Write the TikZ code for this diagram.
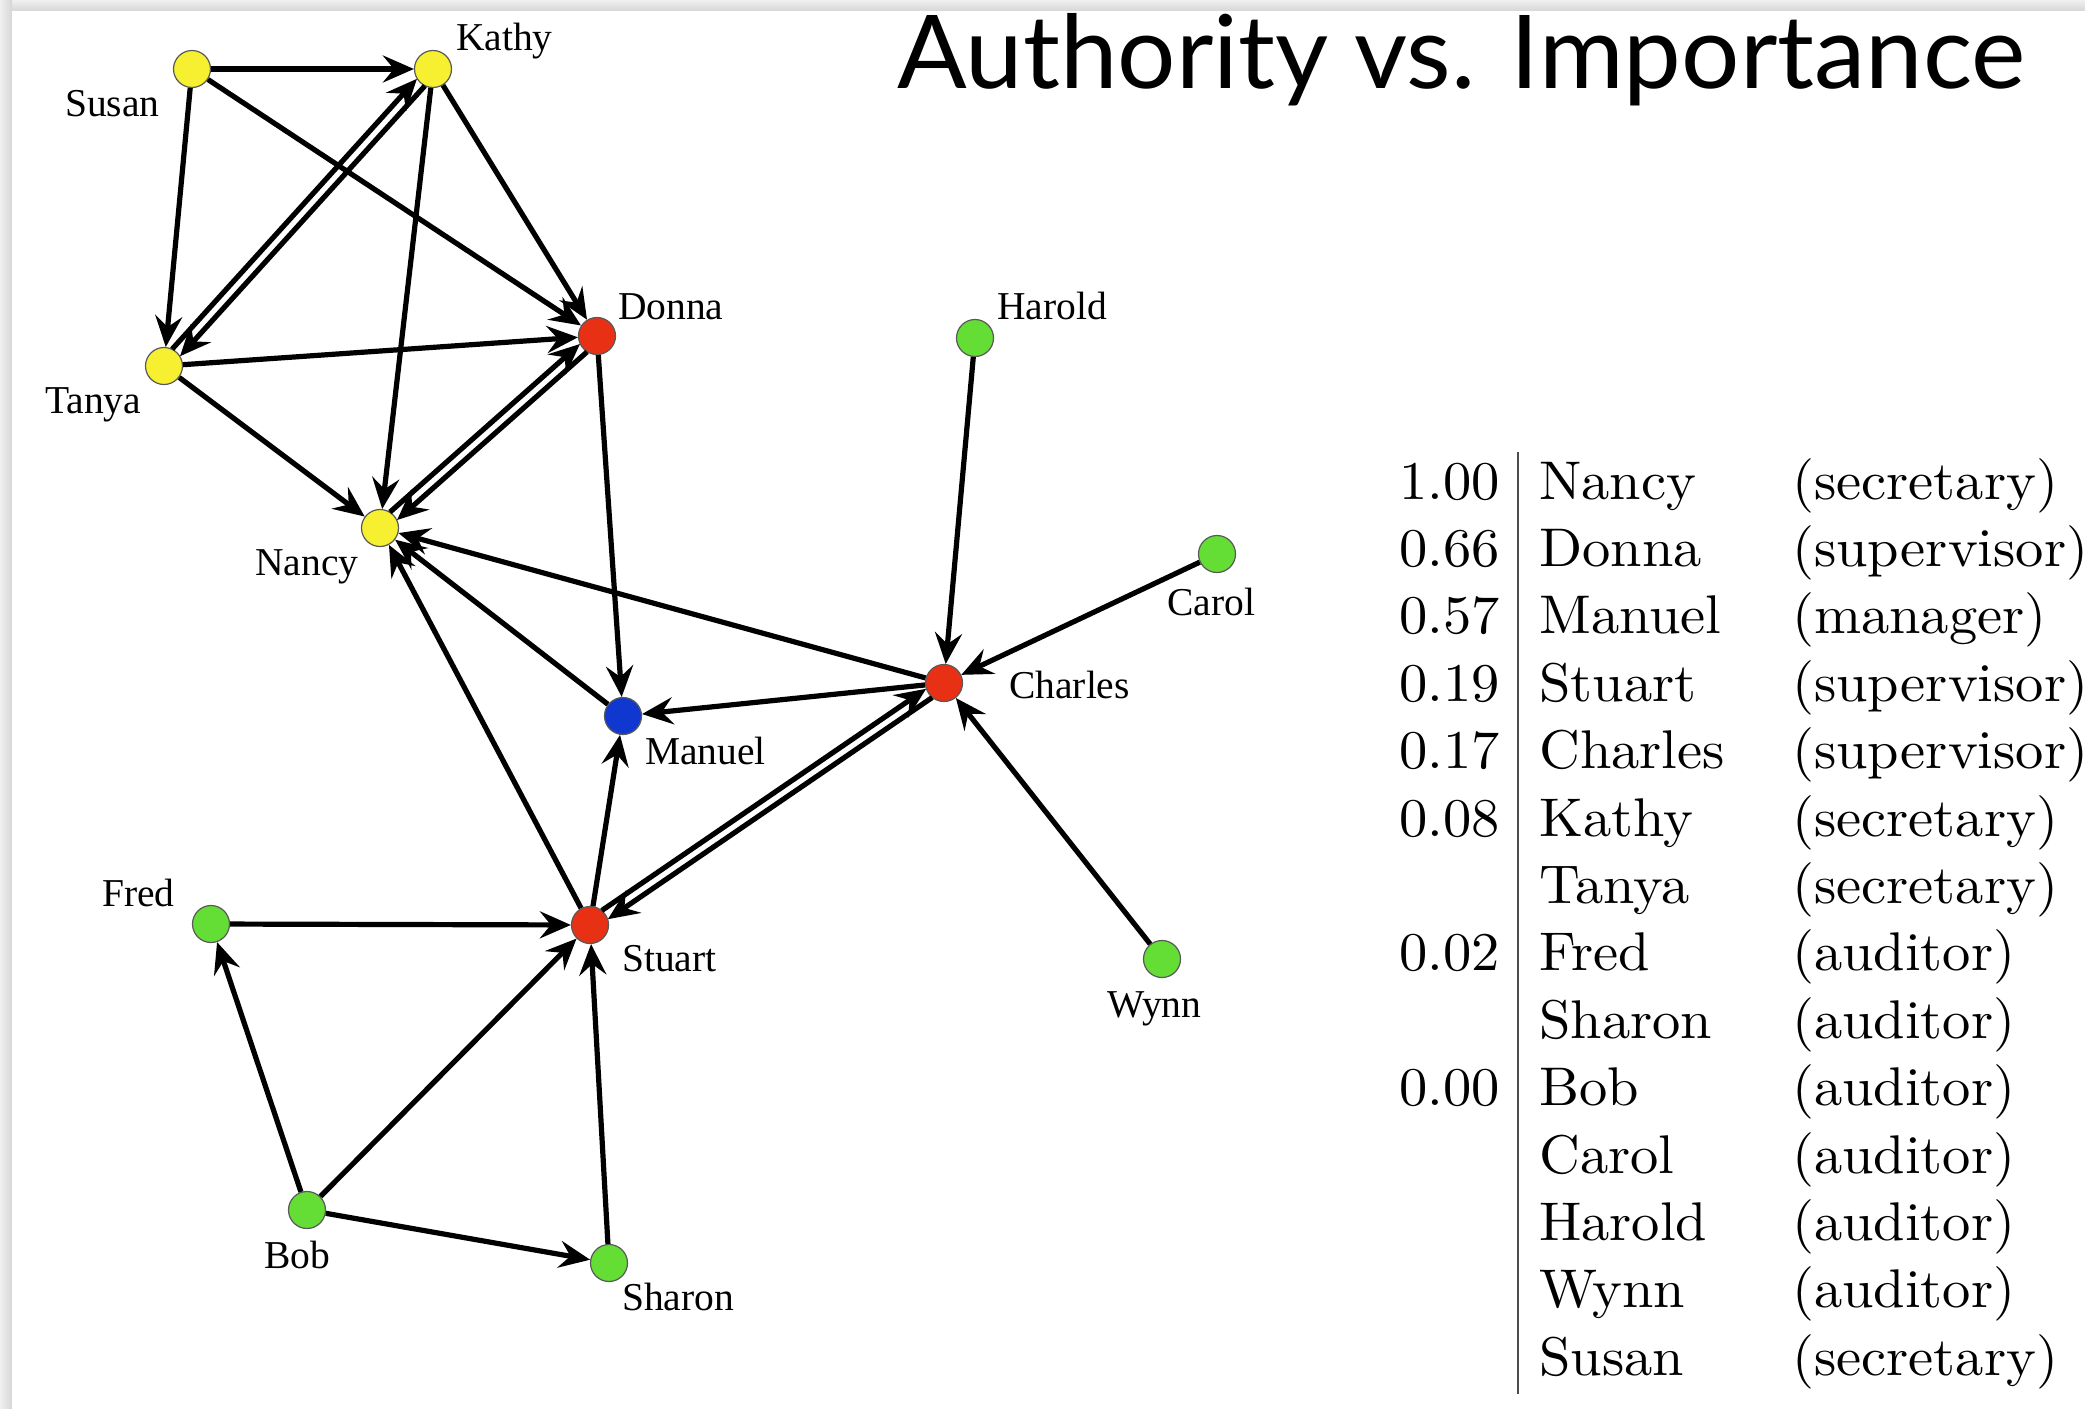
\documentclass[tikz,border=0pt]{standalone}
\usepackage{fontspec}
\usepackage{graphicx}
\usetikzlibrary{arrows.meta,calc}
\newfontfamily\labfont{Liberation Serif}
\newfontfamily\titlefont{Lato}
\definecolor{nyellow}{RGB}{246,240,48}
\definecolor{nred}{RGB}{232,48,20}
\definecolor{ngreen}{RGB}{100,222,52}
\definecolor{nblue}{RGB}{16,56,208}
\begin{document}
\begin{tikzpicture}[x=1pt,y=-1pt,
  vert/.style={circle, minimum size=37pt, inner sep=0pt, draw=black!65, line width=1.2pt},
  yv/.style={vert, fill=nyellow},
  rv/.style={vert, fill=nred},
  gv/.style={vert, fill=ngreen},
  bv/.style={vert, fill=nblue},
  edge/.style={line width=5.2pt, -{Stealth[length=31pt,width=27pt,inset=11pt]}},
  dbl/.style={edge, shorten >=18pt, shorten <=18pt},
  lab/.style={anchor=base west, inner sep=0pt, font=\labfont\fontsize{39.5}{40}\selectfont},
  tab/.style={inner sep=0pt}
]
\useasboundingbox (0,0) rectangle (2085,1408);
% slide background
\shade[top color=black!6, bottom color=black!16] (0,0) rectangle (2085,11);
\shade[left color=black!6, right color=black!16] (0,0) rectangle (12,1408);
\fill[white] (12,11) rectangle (2085,1408);

% vertices
\node[yv] (Susan)   at (192,69) {};
\node[yv] (Kathy)   at (433,69) {};
\node[yv] (Tanya)   at (164,366) {};
\node[rv] (Donna)   at (597,336) {};
\node[yv] (Nancy)   at (380,528) {};
\node[gv] (Harold)  at (975,338) {};
\node[gv] (Carol)   at (1217,554) {};
\node[rv] (Charles) at (944,683) {};
\node[bv] (Manuel)  at (623,716) {};
\node[gv] (Fred)    at (211,924) {};
\node[rv] (Stuart)  at (590,925) {};
\node[gv] (Wynn)    at (1162,959) {};
\node[gv] (Bob)     at (307,1210) {};
\node[gv] (Sharon)  at (609,1263) {};

% labels
\node[lab] (lSusan)   at (65,116)   {Susan};
\node[lab] (lKathy)   at (456,50)   {Kathy};
\node[lab] (lTanya)   at (45,413)   {Tanya};
\node[lab] (lDonna)   at (618,319)  {Donna};
\node[lab] (lNancy)   at (255,575)  {Nancy};
\node[lab] (lHarold)  at (997,319)  {Harold};
\node[lab] (lCarol)   at (1167,615) {Carol};
\node[lab] (lCharles) at (1009,698) {Charles};
\node[lab] (lManuel)  at (645,764)  {Manuel};
\node[lab] (lFred)    at (102,906)  {Fred};
\node[lab] (lStuart)  at (622,971)  {Stuart};
\node[lab] (lWynn)    at (1107,1017) {Wynn};
\node[lab] (lBob)     at (264,1268) {Bob};
\node[lab] (lSharon)  at (622,1310) {Sharon};

% single edges
\draw[edge] (Susan) -- (Kathy);
\draw[edge] (Susan) -- (Tanya);
\draw[edge] (Susan) -- (Donna);
\draw[edge] (Kathy) -- (Donna);
\draw[edge] (Kathy) -- (Nancy);
\draw[edge] (Tanya) -- (Donna);
\draw[edge] (Tanya) -- (Nancy);
\draw[edge] (Donna) -- (Manuel);
\draw[edge] (Harold) -- (Charles);
\draw[edge] (Carol) -- (Charles);
\draw[edge] (Charles) -- (Nancy);
\draw[edge] (Charles) -- (Manuel);
\draw[edge] (Manuel) -- (Nancy);
\draw[edge] (Stuart) -- (Nancy);
\draw[edge] (Stuart) -- (Manuel);
\draw[edge] (Wynn) -- (Charles);
\draw[edge] (Fred) -- (Stuart);
\draw[edge] (Bob) -- (Fred);
\draw[edge] (Bob) -- (Stuart);
\draw[edge] (Bob) -- (Sharon);
\draw[edge] (Sharon) -- (Stuart);

% double (mutual) edges
\foreach \a/\b in {Kathy/Tanya, Donna/Nancy, Charles/Stuart}{
  \draw[dbl] ($(\a)!5.3pt!90:(\b)$) -- ($(\b)!5.3pt!-90:(\a)$);
  \draw[dbl] ($(\b)!5.3pt!90:(\a)$) -- ($(\a)!5.3pt!-90:(\b)$);
}

% title
\node[anchor=base west, inner sep=0pt] (title) at (897,88)
  {\resizebox{1128pt}{75pt}{\titlefont Authority vs. Importance}};

% table
\coordinate (ruleTop) at (1518,452);
\coordinate (ruleBot) at (1518,1394);
\draw[line width=2pt, black!70] (ruleTop) -- (ruleBot);
\foreach \v/\n/\r [count=\i from 0] in {
  1.00/Nancy/secretary, 0.66/Donna/supervisor, 0.57/Manuel/manager,
  0.19/Stuart/supervisor, 0.17/Charles/supervisor, 0.08/Kathy/secretary,
  /Tanya/secretary, 0.02/Fred/auditor, /Sharon/auditor, 0.00/Bob/auditor,
  /Carol/auditor, /Harold/auditor, /Wynn/auditor, /Susan/secretary}{
  \node[tab, anchor=base east] (num\i) at (1500,{499+67.4*\i}) {\scalebox{5.65}[5.45]{\v}};
  \node[tab, anchor=base west] (name\i) at (1539,{499+67.4*\i}) {\scalebox{5.65}[5.45]{\n}};
  \node[tab, anchor=base west] (role\i) at (1792,{499+67.4*\i}) {\scalebox{5.65}[5.45]{(\r)}};
}
\end{tikzpicture}
\end{document}
